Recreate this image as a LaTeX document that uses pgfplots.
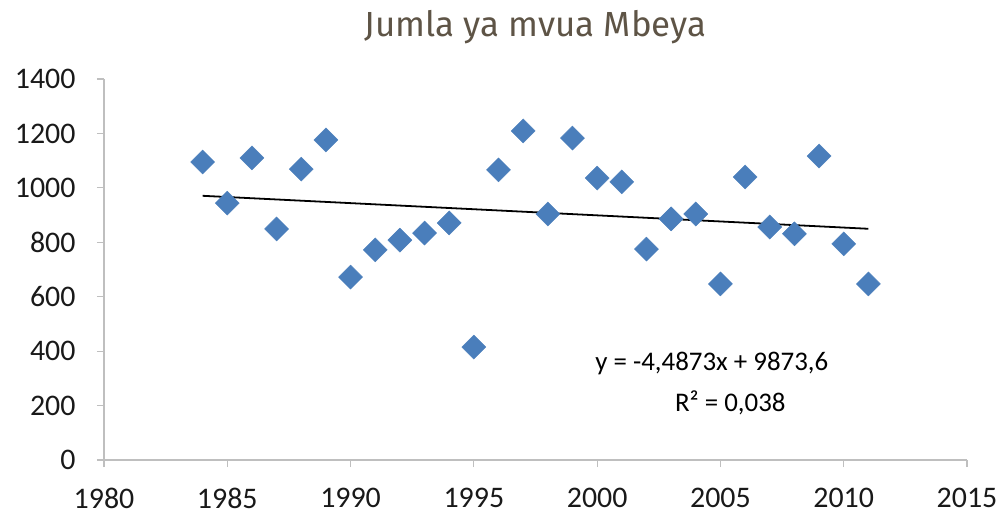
\documentclass[border=0pt]{standalone}
\usepackage{pgfplots}
\pgfplotsset{compat=1.18}
\usepackage{fontspec}
\setmainfont{Carlito}
\newfontfamily\titlefont{Fira Sans}
\definecolor{mk}{HTML}{4A7EBB}
\definecolor{ax}{HTML}{BFBFBF}
\definecolor{tt}{HTML}{5E5446}
\begin{document}
\begin{tikzpicture}
\begin{axis}[
  scale only axis,
  width=863bp, height=381bp,
  xmin=1980, xmax=2015, ymin=0, ymax=1400,
  xtick={1980,1985,...,2015},
  ytick={0,200,...,1400},
  axis x line*=bottom, axis y line*=left,
  axis line style={ax, line width=1.2pt},
  tick style={ax, line width=1.2pt},
  tick align=outside,
  major tick length=7bp,
  /pgf/number format/1000 sep={},
  /pgf/number format/assume math mode=true,
  ticklabel style={font=\fontsize{30}{32}\selectfont, text=black!90},
  yticklabel style={xshift=-18bp},
  xticklabel style={yshift=-18bp},
  title={\titlefont\fontsize{35}{40}\selectfont\color{tt}Jumla ya mvua Mbeya},
  title style={yshift=26bp},
  clip=false,
]
\addplot[only marks, mark=square*, mark size=8.5bp, mark options={fill=mk, draw=mk, rotate=45}] coordinates {
(1984,1095) (1985,944) (1986,1110) (1987,849) (1988,1069) (1989,1176)
(1990,672) (1991,772) (1992,808) (1993,834) (1994,871) (1995,415)
(1996,1066) (1997,1209) (1998,904) (1999,1183) (2000,1036) (2001,1022)
(2002,775) (2003,886) (2004,904) (2005,647) (2006,1040) (2007,856)
(2008,831) (2009,1117) (2010,794) (2011,647)
};
\addplot[black, line width=1.8pt] coordinates {(1984,970.8) (2011,849.6)};
\node[font=\fontsize{27}{30}\selectfont] at (axis cs:2004.65,353) {y = -4,4873x + 9873,6};
\node[font=\fontsize{27}{30}\selectfont] at (axis cs:2005.4,209) {R² = 0,038};
\end{axis}
\pgfresetboundingbox
\path[use as bounding box] (current axis.south west) ++(-104bp,-57bp) rectangle ([xshift=34bp,yshift=79bp]current axis.north east);
\end{tikzpicture}
\end{document}
